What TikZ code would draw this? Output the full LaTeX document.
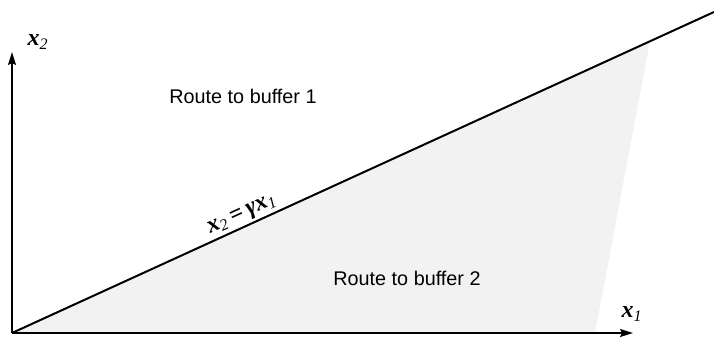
\documentclass[tikz,border=0pt]{standalone}
\usepackage{fontspec}
\setmainfont{Liberation Serif}
\newfontfamily\helv{Liberation Sans}
\usetikzlibrary{arrows.meta}

% bold italic variable with subscript
\newcommand{\varx}[1]{{\bfseries\itshape x}\textsubscript{\itshape #1}}

\begin{document}
\begin{tikzpicture}[
    x=0.5pt, y=0.5pt,
    axis/.style={-{Stealth[length=6.5pt, width=4pt, inset=1pt]}, line width=0.7pt, draw=black},
    divider/.style={line width=1pt, draw=black},
    region/.style={fill=black!5, draw=none},
    rlabel/.style={font=\helv\fontsize{9.9}{12}\selectfont},
    vlabel/.style={font=\fontsize{12}{14}\selectfont}
]
\useasboundingbox (0,0) rectangle (714,339);

\coordinate (origin) at (12,6);
\coordinate (xend) at (633,6);
\coordinate (yend) at (12,287);
\coordinate (lineend) at (714,327);
\coordinate (shadetop) at (650,298);
\coordinate (shadebot) at (595,6);

% shaded region below the switching line
\fill[region] (origin) -- (shadetop) -- (shadebot) -- cycle;

\draw[axis] (origin) -- (xend);
\draw[axis] (origin) -- (yend);

\draw[divider] (origin) -- (lineend)
    node[pos=0.335, sloped, above=0pt, vlabel, inner sep=1pt] (eq) {\varx{2}\,\textbf{=}\,\textbf{\textit{γ}}\varx{1}};

\node[vlabel] (xlab) at (632,25) {\varx{1}};
\node[vlabel] (ylab) at (38,297) {\varx{2}};

\node[rlabel] (buf1) at (243,243) {Route to buffer 1};
\node[rlabel] (buf2) at (407,61) {Route to buffer 2};

\end{tikzpicture}
\end{document}
